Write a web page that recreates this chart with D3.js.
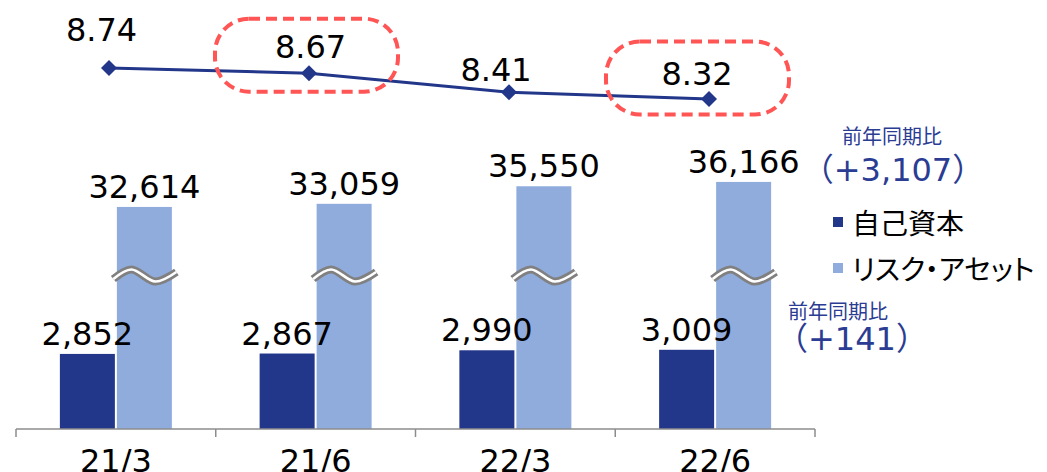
<!DOCTYPE html>
<html>
<head>
<meta charset="utf-8">
<script src="https://cdn.jsdelivr.net/npm/d3@7"></script>
<style>
  html, body { margin: 0; padding: 0; background: #fff; }
  svg { display: block; }
</style>
</head>
<body>
<svg id="chart" width="1047" height="472"></svg>
<script>
// Periods on the category axis
const categories = ["21/3", "21/6", "22/3", "22/6"];
// 自己資本比率 (%)
const ratioValues = [8.74, 8.67, 8.41, 8.32];
// 自己資本 (億円)
const capitalValues = [2852, 2867, 2990, 3009];
// リスク・アセット (億円)
const riskAssetValues = [32614, 33059, 35550, 36166];
// Legend entries
const seriesNames = ["自己資本", "リスク・アセット"];
// Year-on-year notes
const yoyTitle = "前年同期比";
const yoyRiskAsset = "（+3,107）";
const yoyCapital = "（+141）";
// Ratio points that get a highlight frame
const highlighted = [1, 3];

const NAVY = "#22368a";
const LIGHT = "#8facdd";
const RED = "#ff5555";
const NUM_FONT = "'DejaVu Sans', 'Noto Sans CJK JP', sans-serif";
const JP_FONT = "'Noto Sans CJK JP', 'Noto Sans', sans-serif";

const svg = d3.select("#chart");

// Category band scale for the bars
const x = d3.scaleBand().domain(categories).range([16, 815]).paddingInner(0).paddingOuter(0);
// Point scale for the ratio line
const xLine = d3.scalePoint().domain(categories).range([109, 709]);

// Broken value axis: lower segment for capital, upper segment for risk assets
const breakLow = 5850, breakHigh = 22950;
const yBar = d3.scaleLinear()
  .domain([0, breakLow, breakHigh, 38000])
  .range([429, 275, 275, 169]);

const yLine = d3.scaleLinear().domain([8, 9]).range([122.6, 48.8]);

const barW = 55;

// Capital bars
svg.append("g").selectAll("rect")
  .data(categories)
  .join("rect")
  .attr("x", d => x(d) + x.bandwidth() / 2 - barW - 1)
  .attr("y", (d, i) => yBar(capitalValues[i]))
  .attr("width", barW)
  .attr("height", (d, i) => yBar(0) - yBar(capitalValues[i]))
  .attr("fill", NAVY);

// Risk-asset bars
svg.append("g").selectAll("rect")
  .data(categories)
  .join("rect")
  .attr("x", d => x(d) + x.bandwidth() / 2 + 1)
  .attr("y", (d, i) => yBar(riskAssetValues[i]))
  .attr("width", barW)
  .attr("height", (d, i) => yBar(0) - yBar(riskAssetValues[i]))
  .attr("fill", LIGHT);

// Wavy break marks across the risk-asset bars
const wavePts = [[-31, 4], [-13, -5.5], [11, 6.5], [32, -3]];
const wave = d3.line().curve(d3.curveCatmullRom.alpha(0.5));
const breakY = yBar(breakLow);
categories.forEach(c => {
  const cx = x(c) + x.bandwidth() / 2 + 1 + barW / 2;
  const pts = wavePts.map(p => [cx + p[0], breakY + p[1]]);
  svg.append("path").attr("d", wave(pts))
    .attr("fill", "none").attr("stroke", "#808080").attr("stroke-width", 8).attr("stroke-linecap", "butt");
  svg.append("path").attr("d", wave(pts))
    .attr("fill", "none").attr("stroke", "#fff").attr("stroke-width", 2.6).attr("stroke-linecap", "butt");
});

// Category axis
const xAxis = d3.axisBottom(x).tickSize(0).tickPadding(0);
const axisG = svg.append("g").attr("transform", `translate(0,${yBar(0)})`).call(xAxis);
axisG.select(".domain").attr("stroke", "#8c8c8c").attr("stroke-width", 1.5)
  .attr("d", "M16,0H815");
axisG.selectAll(".tick text")
  .attr("y", 43).attr("dy", null)
  .attr("font-family", NUM_FONT).attr("font-size", 32).attr("fill", "#000");
// Boundary ticks between categories
const bounds = categories.map(c => x(c)).concat([x.range()[1]]);
axisG.append("g").selectAll("line")
  .data(bounds).join("line")
  .attr("x1", d => d).attr("x2", d => d)
  .attr("y1", 0).attr("y2", 8)
  .attr("stroke", "#8c8c8c").attr("stroke-width", 1.5);

// Bar value labels
const fmt = d3.format(",");
svg.append("g").selectAll("text")
  .data(categories).join("text")
  .attr("x", d => x(d) + x.bandwidth() / 2 - barW / 2 - 1)
  .attr("y", (d, i) => yBar(capitalValues[i]) - 9)
  .attr("text-anchor", "middle")
  .attr("font-family", NUM_FONT).attr("font-size", 32).attr("fill", "#000")
  .text((d, i) => fmt(capitalValues[i]));

svg.append("g").selectAll("text")
  .data(categories).join("text")
  .attr("x", d => x(d) + x.bandwidth() / 2 + 1 + barW / 2)
  .attr("y", (d, i) => yBar(riskAssetValues[i]) - 9)
  .attr("text-anchor", "middle")
  .attr("font-family", NUM_FONT).attr("font-size", 32).attr("fill", "#000")
  .text((d, i) => fmt(riskAssetValues[i]));

// Ratio line
const line = d3.line().x((d, i) => xLine(categories[i])).y(d => yLine(d));
svg.append("path").datum(ratioValues)
  .attr("d", line).attr("fill", "none").attr("stroke", NAVY).attr("stroke-width", 3);

svg.append("g").selectAll("path")
  .data(ratioValues).join("path")
  .attr("transform", (d, i) => `translate(${xLine(categories[i])},${yLine(d)})`)
  .attr("d", "M0,-8L8,0L0,8L-8,0Z")
  .attr("fill", NAVY);

// Ratio labels, nudged off the line
const labelNudge = [[-7.5, -27], [1.5, -15], [-13, -11], [-12, -14]];
const ratioLabelPos = ratioValues.map((v, i) => [
  xLine(categories[i]) + labelNudge[i][0],
  yLine(v) + labelNudge[i][1]
]);
svg.append("g").selectAll("text")
  .data(ratioValues).join("text")
  .attr("x", (d, i) => ratioLabelPos[i][0])
  .attr("y", (d, i) => ratioLabelPos[i][1])
  .attr("text-anchor", "middle")
  .attr("font-family", NUM_FONT).attr("font-size", 32).attr("fill", "#000")
  .text(d => d3.format(".2f")(d));

// Dashed highlight frames around selected ratio labels
const frameW = 183, frameH = 73;
const frameShift = { 1: [-4, -3], 3: [0.5, -7] };
svg.append("g").selectAll("rect")
  .data(highlighted).join("rect")
  .attr("x", i => ratioLabelPos[i][0] + frameShift[i][0] - frameW / 2)
  .attr("y", i => ratioLabelPos[i][1] + frameShift[i][1] - frameH / 2)
  .attr("width", frameW).attr("height", frameH)
  .attr("rx", 34).attr("ry", 34)
  .attr("fill", "none").attr("stroke", RED).attr("stroke-width", 4)
  .attr("stroke-dasharray", "11 6");

// Legend
const legend = svg.append("g");
const legendColors = [NAVY, LIGHT];
const legendY = [222, 268];
seriesNames.forEach((name, i) => {
  legend.append("rect").attr("x", 833).attr("y", legendY[i] - 5)
    .attr("width", 10).attr("height", 10).attr("fill", legendColors[i]);
  legend.append("text").attr("x", 852).attr("y", legendY[i] + 12)
    .attr("font-family", JP_FONT).attr("font-size", 28).attr("fill", "#000")
    .style("font-feature-settings", "'palt' 1")
    .text(name);
});

// Year-on-year notes
const YOY = "#2b3c93";
const notes = svg.append("g").attr("fill", YOY).attr("text-anchor", "middle");
notes.append("text").attr("x", 892).attr("y", 144)
  .attr("font-family", JP_FONT).attr("font-size", 20).text(yoyTitle);
notes.append("text").attr("x", 893).attr("y", 181)
  .attr("font-family", NUM_FONT).attr("font-size", 32).text(yoyRiskAsset);
notes.append("text").attr("x", 838).attr("y", 319)
  .attr("font-family", JP_FONT).attr("font-size", 20).text(yoyTitle);
notes.append("text").attr("x", 852).attr("y", 350)
  .attr("font-family", NUM_FONT).attr("font-size", 32).text(yoyCapital);
</script>
</body>
</html>
